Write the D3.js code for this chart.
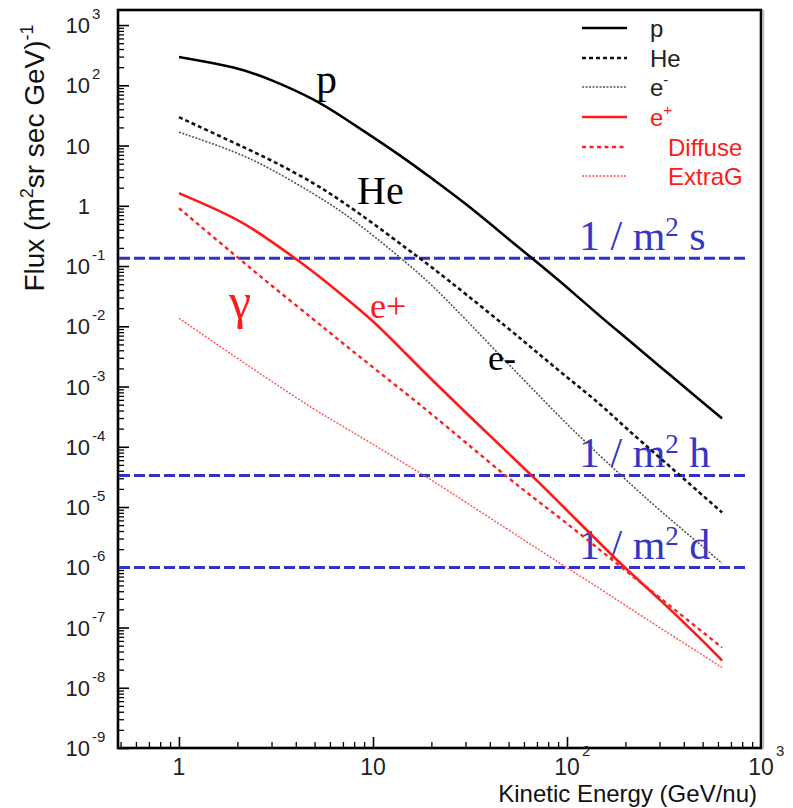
<!DOCTYPE html>
<html><head><meta charset="utf-8">
<script src="https://cdn.jsdelivr.net/npm/d3@7"></script>
<style>body{margin:0;background:#fff}</style>
</head><body>
<svg id="chart" width="793" height="808"></svg>
<script>
// ---- data ----
const energies = [1,2,3,5,7,10,15,20,30,50,70,100,150,200,300,500,630];
const protonFlux = [294,200,124,59,29.6,13.8,5.72,2.87,1.10,0.279,0.1156,0.0445,0.0141,0.00656,0.00217,5.47e-4,2.96e-4];
const heliumFlux = [29.6,10.5,5.72,2.37,1.156,0.514,0.192,0.097,0.0345,0.00916,0.0037,0.00142,5.0e-4,2.07e-4,6.67e-5,1.56e-5,8.13e-6];
const electronFlux = [16.7,7.77,4.06,1.56,0.783,0.325,0.111,0.0499,0.01306,0.00234,7.71e-4,2.35e-4,6.8e-5,2.87e-5,8.79e-6,2.22e-6,1.16e-6];
const positronFlux = [1.62,0.622,0.258,0.0789,0.0321,0.0126,0.00334,0.00132,3.72e-4,7.76e-5,2.77e-5,8.79e-6,2.39e-6,9.55e-7,2.97e-7,6.08e-8,2.83e-8];
const diffuseGammaFlux = [0.912,0.140,0.0472,0.0126,0.00522,0.00208,7.41e-4,3.52e-4,1.18e-4,2.99e-5,1.29e-5,5.35e-6,1.87e-6,8.85e-7,3.15e-7,8.41e-8,4.65e-8];
const extraGalGammaFlux = [0.01358,0.00294,0.00122,4.10e-4,2.18e-4,1.10e-4,4.99e-5,2.82e-5,1.21e-5,4.15e-6,2.05e-6,9.82e-7,4.28e-7,2.32e-7,1.0e-7,3.49e-8,2.17e-8];
const seriesNames = ["p","He","e-","e+","Diffuse","ExtraG"];
const rateLevels = [0.135, 3.35e-5, 9.93e-7];
const rateUnits = ["s","h","d"];
const xTickValues = [1,10,100,1000];
const yTickExponents = [3,2,1,0,-1,-2,-3,-4,-5,-6,-7,-8,-9];

// ---- layout ----
const svg = d3.select("#chart");
const L = 118, R = 761, T = 10, B = 748;
const x = d3.scaleLog().domain([0.485, 1000]).range([L, R]);
const y = d3.scaleLog().domain([1e-9, Math.pow(10, 3.25)]).range([B, T]);

const styles = {
  "p":       {color:"#000", width:2.6, dash:null},
  "He":      {color:"#111", width:2.6, dash:"4,3"},
  "e-":      {color:"#555", width:1.6, dash:"2,1.5"},
  "e+":      {color:"#ff1a1a", width:2.6, dash:null},
  "Diffuse": {color:"#ff2020", width:2.4, dash:"4,3.5"},
  "ExtraG":  {color:"#ff5050", width:1.4, dash:"2,1.5"}
};
const seriesData = [protonFlux, heliumFlux, electronFlux, positronFlux, diffuseGammaFlux, extraGalGammaFlux];

// minor ticks
const yMinor = [];
for (let k = -9; k <= 3; k++) for (let m = 2; m <= 9; m++) { const v = m*Math.pow(10,k); if (v < y.domain()[1]) yMinor.push(v); }
const xMinor = [];
for (let k = -1; k <= 2; k++) for (let m = 2; m <= 9; m++) { const v = m*Math.pow(10,k); if (v > x.domain()[0] && v < 1000) xMinor.push(v); }
const yMajor = yTickExponents.map(k => Math.pow(10,k));

svg.append("g").attr("transform",`translate(${L},0)`)
  .call(d3.axisLeft(y).tickValues(yMajor).tickSize(-11).tickFormat(""))
  .call(g=>g.select(".domain").remove()).selectAll("line").attr("stroke","#000").attr("stroke-width",1.6);
svg.append("g").attr("transform",`translate(${L},0)`)
  .call(d3.axisLeft(y).tickValues(yMinor).tickSize(-6).tickFormat(""))
  .call(g=>g.select(".domain").remove()).selectAll("line").attr("stroke","#000").attr("stroke-width",1.3);
svg.append("g").attr("transform",`translate(0,${B})`)
  .call(d3.axisBottom(x).tickValues(xTickValues.filter(v=>v<1000)).tickSize(-11).tickFormat(""))
  .call(g=>g.select(".domain").remove()).selectAll("line").attr("stroke","#000").attr("stroke-width",1.6);
svg.append("g").attr("transform",`translate(0,${B})`)
  .call(d3.axisBottom(x).tickValues(xMinor).tickSize(-6).tickFormat(""))
  .call(g=>g.select(".domain").remove()).selectAll("line").attr("stroke","#000").attr("stroke-width",1.3);

// frame
svg.append("rect").attr("x",L).attr("y",T).attr("width",R-L).attr("height",B-T)
  .attr("fill","none").attr("stroke","#000").attr("stroke-width",2.6);
svg.append("line").attr("x1",R+2.5).attr("x2",R+2.5).attr("y1",T).attr("y2",B+1).attr("stroke","#bbb").attr("stroke-width",1.5);

// y tick labels
const sans = "'Liberation Sans', Arial, Helvetica, sans-serif";
const serif = "'Liberation Serif', 'Times New Roman', serif";
yTickExponents.forEach(k => {
  const yy = y(Math.pow(10,k));
  const base = k === 0 ? "1" : "10";
  svg.append("text").attr("x",90).attr("y",yy+8).attr("text-anchor","end")
    .attr("font-family",sans).attr("font-size",22).attr("fill","#222").text(base);
  if (k !== 0 && k !== 1) {
    svg.append("text").attr("x",92).attr("y",yy-6).attr("font-family",sans).attr("font-size",15)
      .attr("fill","#222").text(String(k));
  }
});
// x tick labels
xTickValues.forEach(v => {
  const xx = x(v), k = Math.round(Math.log10(v));
  const base = k === 0 ? "1" : "10";
  svg.append("text").attr("x",xx).attr("y",775).attr("text-anchor","middle")
    .attr("font-family",sans).attr("font-size",23).attr("fill","#222").text(base);
  if (k >= 2) svg.append("text").attr("x",xx+15).attr("y",756).attr("font-family",sans)
    .attr("font-size",15).attr("fill","#222").text(String(k));
});

// axis titles
svg.append("text").attr("x",757).attr("y",802).attr("text-anchor","end")
  .attr("font-family",sans).attr("font-size",24).attr("fill","#111").text("Kinetic Energy (GeV/nu)");
const yt = svg.append("text").attr("transform","translate(44,158) rotate(-90)").attr("text-anchor","middle")
  .attr("font-family",sans).attr("font-size",28).attr("fill","#111");
yt.append("tspan").text("Flux (m");
yt.append("tspan").attr("font-size",18).attr("dy",-11).text("2");
yt.append("tspan").attr("dy",11).text("sr sec GeV)");
yt.append("tspan").attr("font-size",18).attr("dy",-11).text("-1");

// rate lines
svg.append("g").selectAll("line").data(rateLevels).join("line")
  .attr("x1",L+1).attr("x2",745).attr("y1",d=>y(d)).attr("y2",d=>y(d))
  .attr("stroke","#3232c8").attr("stroke-width",3).attr("stroke-dasharray","11,4");
rateLevels.forEach((r,i) => {
  const t = svg.append("text").attr("x",579).attr("y",y(r)-8).attr("font-family",serif)
    .attr("font-size",42).attr("fill","#3535c8");
  t.append("tspan").text("1 / m");
  t.append("tspan").attr("font-size",27).attr("dy",-14).text("2");
  t.append("tspan").attr("dy",14).text(" " + rateUnits[i]);
});

// curves
const line = d3.line().x(d=>x(d[0])).y(d=>y(d[1])).curve(d3.curveBasis);
seriesNames.forEach((name,i) => {
  const s = styles[name];
  svg.append("path").datum(energies.map((e,j)=>[e, seriesData[i][j]]))
    .attr("d",line).attr("fill","none").attr("stroke",s.color).attr("stroke-width",s.width)
    .attr("stroke-dasharray",s.dash);
});

// curve annotations
const ann = [
  {t:"p", x:316, y:93, c:"#000", s:42},
  {t:"He", x:357, y:204, c:"#000", s:40},
  {t:"e+", x:370, y:318, c:"#ff1a1a", s:36},
  {t:"e-", x:488, y:370, c:"#000", s:36},
  {t:"γ", x:229, y:318, c:"#ff1a1a", s:50}
];
ann.forEach(a => svg.append("text").attr("x",a.x).attr("y",a.y).attr("font-family",serif)
  .attr("font-size",a.s).attr("fill",a.c).text(a.t));

// legend
const legY = [28,58,87,117,147,176];
seriesNames.forEach((name,i) => {
  const s = styles[name];
  svg.append("line").attr("x1",582).attr("x2",627).attr("y1",legY[i]).attr("y2",legY[i])
    .attr("stroke",s.color).attr("stroke-width",s.width).attr("stroke-dasharray",s.dash);
  const red = i >= 3;
  const lx = i >= 4 ? 668 : 650;
  const t = svg.append("text").attr("x",lx).attr("y",legY[i]+9).attr("font-family",sans)
    .attr("font-size",24).attr("fill",red ? "#ff1a1a" : "#222");
  if (name === "e-" || name === "e+") {
    t.append("tspan").text("e");
    t.append("tspan").attr("font-size",15).attr("dy",-11).text(name === "e-" ? "-" : "+");
  } else t.text(name);
});
</script>
</body></html>
